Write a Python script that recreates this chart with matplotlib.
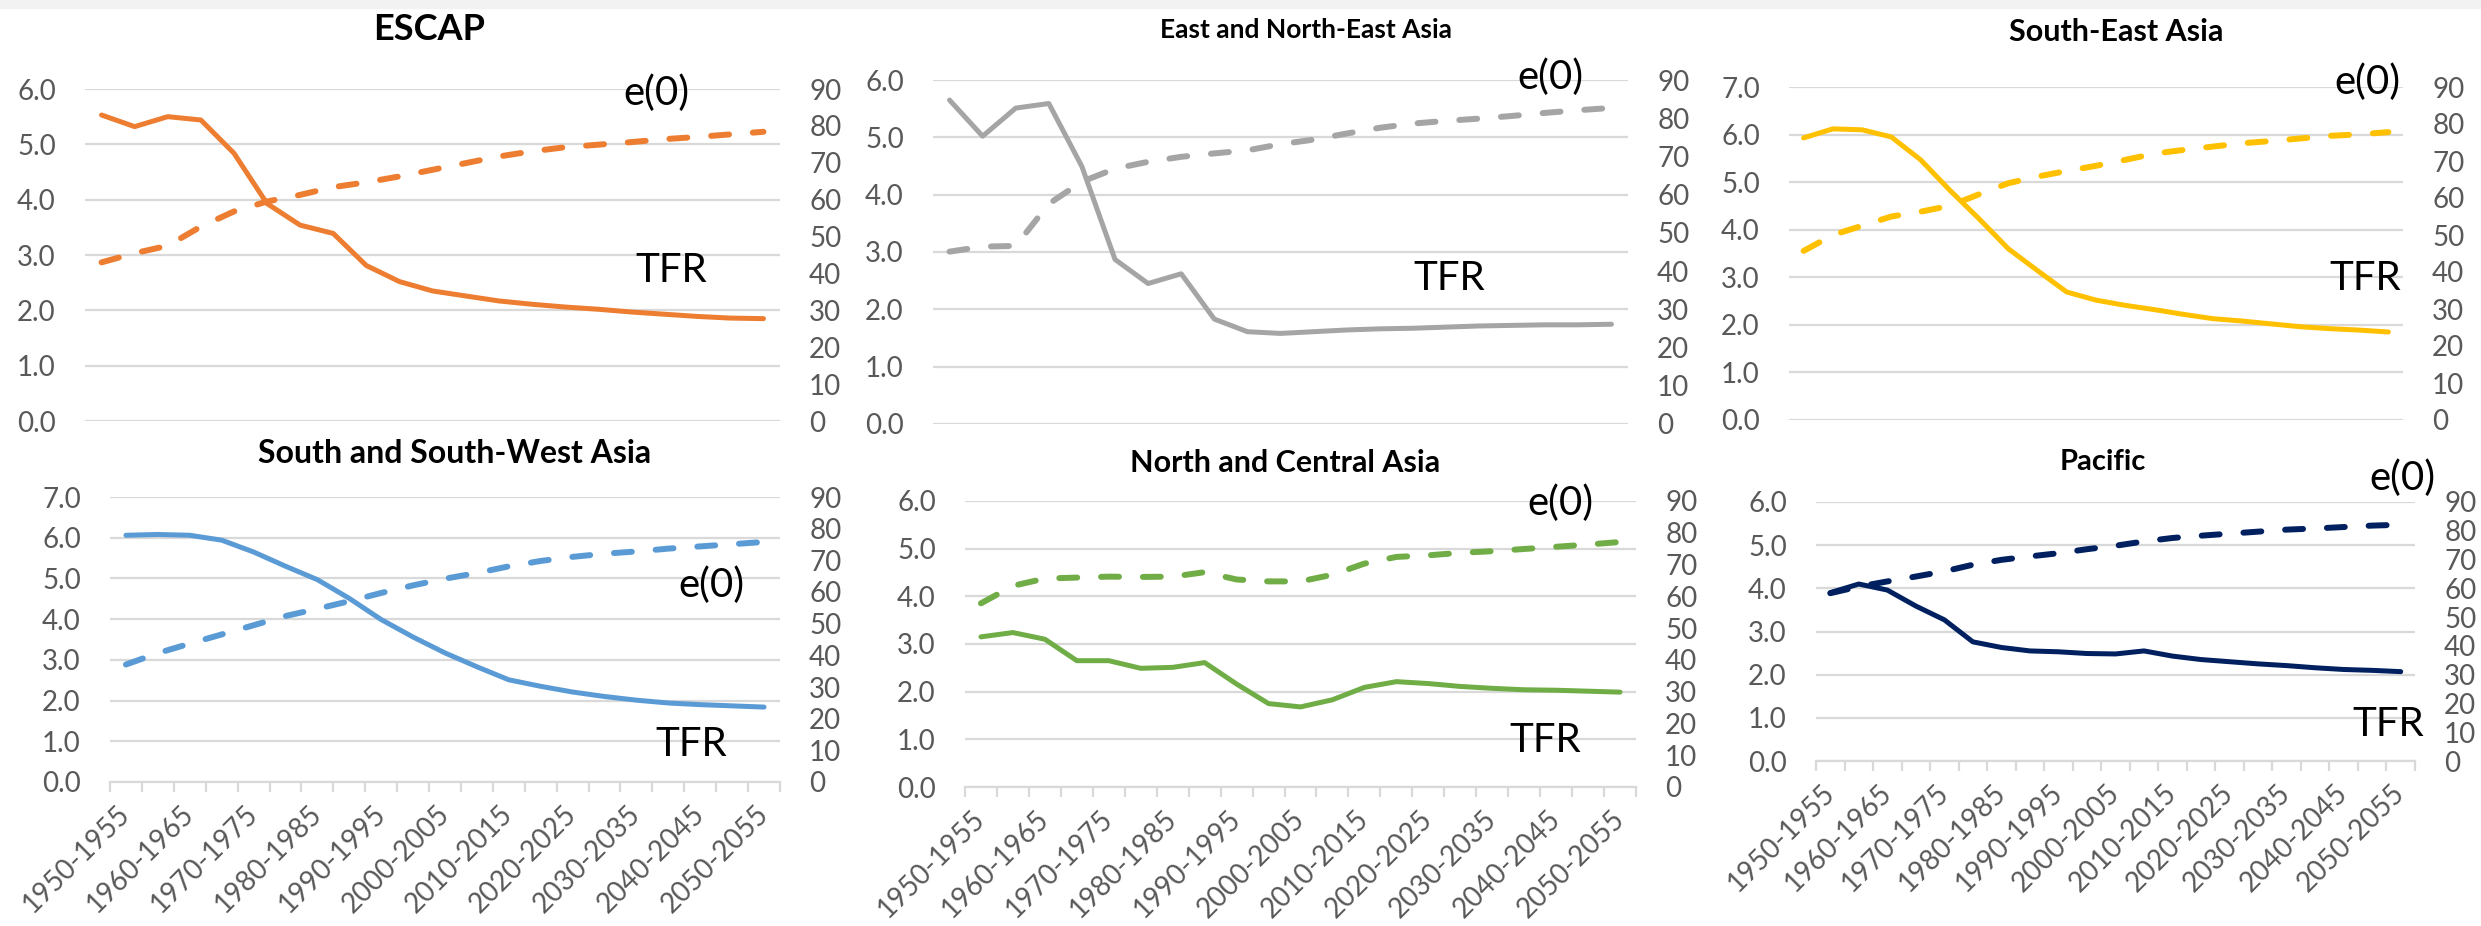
import matplotlib
matplotlib.use("Agg")
import matplotlib.pyplot as plt

plt.rcParams['font.family'] = ['Lato', 'DejaVu Sans']

periods = [f"{y}-{y + 5}" for y in range(1950, 2055, 5)]

escap_tfr = [5.53, 5.32, 5.50, 5.44, 4.84, 3.93, 3.54, 3.39, 2.81, 2.52, 2.35,
             2.26, 2.17, 2.11, 2.06, 2.02, 1.97, 1.93, 1.89, 1.86, 1.85]
escap_e0 = [43.0, 45.5, 47.5, 52.7, 56.8, 59.5, 61.3, 63.4, 64.7, 66.3, 68.1,
            69.9, 71.7, 73.1, 74.2, 74.9, 75.6, 76.4, 77.0, 77.7, 78.4]

east_tfr = [5.65, 5.02, 5.51, 5.59, 4.49, 2.87, 2.45, 2.62, 1.83, 1.61, 1.58,
            1.61, 1.64, 1.66, 1.67, 1.69, 1.71, 1.72, 1.73, 1.73, 1.74]
east_e0 = [45.1, 46.4, 46.6, 57.6, 63.4, 66.8, 68.6, 69.9, 70.8, 71.6, 73.2,
           74.4, 76.0, 77.5, 78.6, 79.3, 79.9, 80.6, 81.4, 82.1, 82.7]

se_tfr = [5.93, 6.12, 6.10, 5.95, 5.47, 4.83, 4.23, 3.60, 3.14, 2.69, 2.52,
          2.41, 2.32, 2.22, 2.13, 2.08, 2.02, 1.96, 1.92, 1.89, 1.85]
se_e0 = [45.7, 50.0, 52.5, 55.0, 56.3, 57.9, 61.0, 64.0, 65.8, 67.3, 68.7,
         70.3, 72.0, 73.0, 73.9, 74.8, 75.4, 76.1, 76.8, 77.2, 77.8]

south_tfr = [6.06, 6.08, 6.06, 5.94, 5.65, 5.30, 4.97, 4.51, 3.99, 3.56, 3.17,
             2.83, 2.51, 2.35, 2.21, 2.10, 2.01, 1.94, 1.90, 1.87, 1.84]
south_e0 = [37.1, 40.7, 43.7, 46.6, 49.5, 52.4, 54.7, 57.1, 59.7, 62.1, 64.2,
            66.0, 68.1, 69.8, 71.1, 72.1, 72.8, 73.7, 74.4, 75.1, 75.8]

north_tfr = [3.15, 3.24, 3.10, 2.65, 2.65, 2.49, 2.51, 2.61, 2.16, 1.75, 1.68,
             1.83, 2.09, 2.21, 2.17, 2.11, 2.07, 2.04, 2.03, 2.01, 1.99]
north_e0 = [57.8, 63.3, 65.6, 65.9, 66.2, 66.1, 66.2, 67.6, 65.3, 64.7, 64.7,
            66.8, 70.3, 72.4, 72.9, 73.7, 74.2, 74.9, 75.6, 76.3, 77.1]

pacific_tfr = [3.90, 4.10, 3.96, 3.59, 3.27, 2.76, 2.63, 2.55, 2.53, 2.49, 2.48,
               2.55, 2.43, 2.35, 2.30, 2.25, 2.21, 2.16, 2.12, 2.10, 2.07]
pacific_e0 = [58.3, 60.6, 62.4, 64.1, 65.9, 68.2, 69.9, 71.1, 72.2, 73.6, 74.8,
              76.3, 77.5, 78.3, 79.0, 79.7, 80.4, 80.8, 81.3, 81.8, 82.1]

W, H = 2481, 926
fig = plt.figure(figsize=(W / 100, H / 100), dpi=100)
fig.patches.append(plt.Rectangle((0, 1 - 8 / H), 1, 8 / H, transform=fig.transFigure,
                                 color="#F2F2F2", zorder=0))

GRID = "#D9D9D9"
TICK = "#595959"

# (title, title size, title xy, tfr, e0, color, ymax, plot box l r t b, e0 label xy, tfr label xy, bottom row)
panels = [
    ("ESCAP", 26, (429, 30), escap_tfr, escap_e0, "#ED7D31", 6, (85, 780, 89, 421), (656, 93), (671, 270), False),
    ("East and North-East Asia", 19, (1306, 30), east_tfr, east_e0, "#A5A5A5", 6, (933, 1628, 80, 424), (1550, 77), (1449, 278), False),
    ("South-East Asia", 22, (2116, 32), se_tfr, se_e0, "#FFC000", 7, (1789, 2403, 87, 420), (2367, 82), (2365, 278), False),
    ("South and South-West Asia", 23, (455, 453), south_tfr, south_e0, "#5B9BD5", 7, (110, 780, 497, 782), (711, 585), (691, 744), True),
    ("North and Central Asia", 22, (1285, 463), north_tfr, north_e0, "#70AD47", 6, (965, 1636, 501, 787), (1560, 503), (1545, 740), True),
    ("Pacific", 21, (2103, 462), pacific_tfr, pacific_e0, "#002060", 6, (1816, 2415, 502, 761), (2402, 478), (2388, 725), True),
]

x = list(range(len(periods)))

for title, tsize, txy, tfr, e0, color, ymax, box, e0xy, tfrxy, bottom in panels:
    l, r, t, b = box
    ax = fig.add_axes([l / W, 1 - b / H, (r - l) / W, (b - t) / H])
    ax.set_facecolor("none")
    ax.plot(x, tfr, color=color, lw=3.6, solid_capstyle="round", solid_joinstyle="round")
    ax.set_xlim(-0.5, len(periods) - 0.5)
    ax.set_ylim(0, ymax)
    ax.set_yticks(range(ymax + 1))
    ax.set_yticklabels([f"{v:.1f}" for v in range(ymax + 1)])
    ax.grid(axis="y", color=GRID, lw=1.6)
    ax.set_axisbelow(True)
    ax.tick_params(axis="y", length=0, pad=21, labelsize=20, labelcolor=TICK)
    for s in ["top", "left", "right"]:
        ax.spines[s].set_visible(False)
    if bottom:
        ax.spines["bottom"].set_color(GRID)
        ax.spines["bottom"].set_linewidth(1.6)
        ax.set_xticks(x[::2])
        ax.set_xticklabels(periods[::2], rotation=45, ha="right", va="center",
                           rotation_mode="anchor")
        ax.set_xticks([i - 0.5 for i in range(len(periods) + 1)], minor=True)
        ax.tick_params(axis="x", which="major", length=0, pad=20, labelsize=20, labelcolor=TICK)
        ax.tick_params(axis="x", which="minor", length=7, width=1.6, color=GRID)
    else:
        ax.spines["bottom"].set_visible(False)
        ax.set_xticks([])

    ax2 = ax.twinx()
    ax2.plot(x, e0, color=color, lw=4.3, dashes=(3.0, 4.0), dash_capstyle="round")
    ax2.set_ylim(0, 90)
    ax2.set_yticks(range(0, 91, 10))
    ax2.tick_params(axis="y", length=0, pad=21, labelsize=20, labelcolor=TICK)
    for s in ax2.spines.values():
        s.set_visible(False)

    fig.text(txy[0] / W, 1 - txy[1] / H, title, ha="center", va="center",
             fontsize=tsize, fontweight="bold", color="black")
    fig.text(e0xy[0] / W, 1 - e0xy[1] / H, "e(0)", ha="center", va="center",
             fontsize=29, color="black")
    fig.text(tfrxy[0] / W, 1 - tfrxy[1] / H, "TFR", ha="center", va="center",
             fontsize=29, color="black")

fig.savefig("out.png", dpi=100, facecolor="white")
